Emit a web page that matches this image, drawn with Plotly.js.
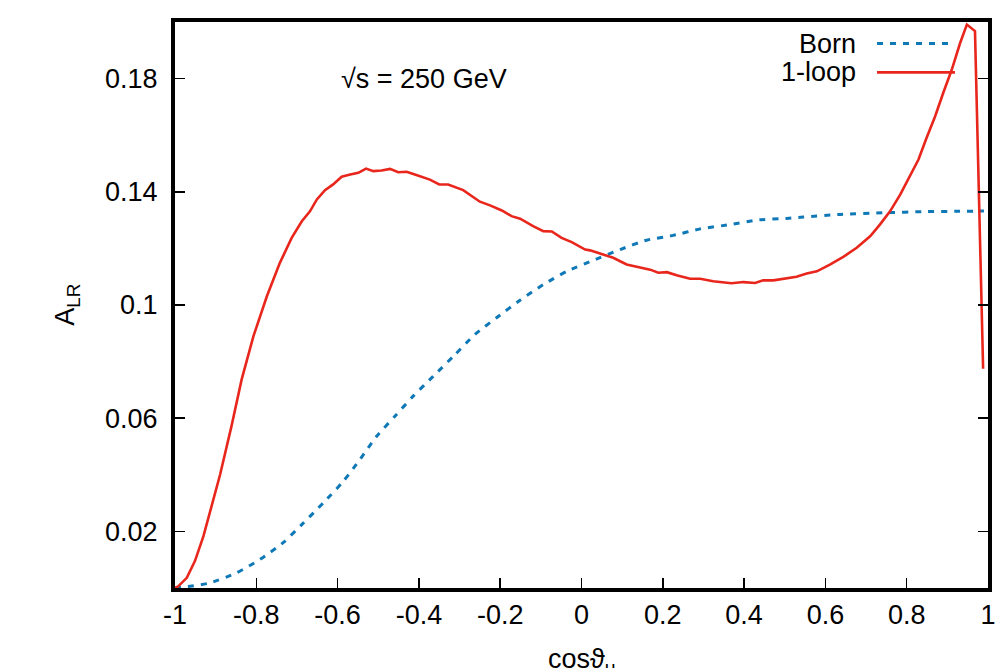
<!DOCTYPE html>
<html>
<head>
<meta charset="utf-8">
<script src="https://cdn.plot.ly/plotly-3.0.1.min.js"></script>
<style>html,body{margin:0;padding:0;background:#fff;}#chart{width:1006px;height:668px;}</style>
</head>
<body>
<div id="chart"></div>
<script>
// 1-loop A_LR
const loopX = [-1, -0.992, -0.971, -0.951, -0.930, -0.910, -0.889, -0.861, -0.836, -0.807, -0.774, -0.742, -0.713, -0.688, -0.668, -0.651, -0.631, -0.611, -0.590, -0.569, -0.549, -0.530, -0.512, -0.492, -0.471, -0.451, -0.430, -0.410, -0.373, -0.350, -0.328, -0.291, -0.270, -0.250, -0.225, -0.196, -0.172, -0.151, -0.119, -0.094, -0.073, -0.049, -0.024, 0.009, 0.021, 0.041, 0.050, 0.078, 0.111, 0.144, 0.169, 0.189, 0.210, 0.234, 0.267, 0.292, 0.324, 0.369, 0.398, 0.427, 0.447, 0.472, 0.505, 0.529, 0.554, 0.579, 0.611, 0.644, 0.677, 0.710, 0.734, 0.759, 0.784, 0.808, 0.829, 0.849, 0.870, 0.890, 0.911, 0.931, 0.948, 0.968, 0.988];
const loopY = [0, 0.0006, 0.0036, 0.0095, 0.0183, 0.0289, 0.0401, 0.0572, 0.0737, 0.0890, 0.1031, 0.1149, 0.1237, 0.1296, 0.1331, 0.1373, 0.1406, 0.1426, 0.1453, 0.1461, 0.1467, 0.1482, 0.1473, 0.1475, 0.1481, 0.1469, 0.1471, 0.1461, 0.1443, 0.1426, 0.1426, 0.1406, 0.1384, 0.1365, 0.1352, 0.1334, 0.1314, 0.1305, 0.1279, 0.1261, 0.1260, 0.1237, 0.1222, 0.1196, 0.1193, 0.1184, 0.1182, 0.1167, 0.1143, 0.1134, 0.1125, 0.1114, 0.1116, 0.1105, 0.1093, 0.1093, 0.1084, 0.1077, 0.1081, 0.1078, 0.1087, 0.1087, 0.1094, 0.1100, 0.1111, 0.1119, 0.1143, 0.1170, 0.1202, 0.1243, 0.1284, 0.1331, 0.1390, 0.1455, 0.1514, 0.1591, 0.1667, 0.1750, 0.1832, 0.1924, 0.1991, 0.1968, 0.0775];
// Born A_LR
const bornX = [-1, -0.963, -0.914, -0.848, -0.791, -0.734, -0.684, -0.635, -0.586, -0.545, -0.504, -0.459, -0.414, -0.365, -0.315, -0.262, -0.209, -0.151, -0.094, -0.036, 0.029, 0.095, 0.160, 0.226, 0.292, 0.365, 0.431, 0.505, 0.546, 0.636, 0.742, 0.849, 0.920, 0.990];
const bornY = [0, 0.0006, 0.0018, 0.0054, 0.0101, 0.0160, 0.0230, 0.0301, 0.0377, 0.0454, 0.0536, 0.0607, 0.0678, 0.0748, 0.0819, 0.0896, 0.0955, 0.1017, 0.1072, 0.1119, 0.1158, 0.1196, 0.1229, 0.1246, 0.1269, 0.1284, 0.1300, 0.1306, 0.1311, 0.1320, 0.1326, 0.1330, 0.1331, 0.1332];

const xTicks = [-1, -0.8, -0.6, -0.4, -0.2, 0, 0.2, 0.4, 0.6, 0.8, 1];
const xTickText = ["-1", "-0.8", "-0.6", "-0.4", "-0.2", "0", "0.2", "0.4", "0.6", "0.8", "1"];
const yTicks = [0.02, 0.06, 0.1, 0.14, 0.18];
const yTickText = ["0.02", "0.06", "0.1", "0.14", "0.18"];
const seriesNames = ["Born", "1-loop"];

const RED = "#e8261c";
const BLUE = "#0f78b7";
const FONT = "Liberation Sans, Arial, sans-serif";
const FS = 27;

const traces = [
  {x: bornX, y: bornY, mode: "lines", name: seriesNames[0], line: {color: BLUE, width: 3, dash: "6px,7px", shape: "spline", smoothing: 0.6}, showlegend: false, hoverinfo: "skip"},
  {x: loopX, y: loopY, mode: "lines", name: seriesNames[1], line: {color: RED, width: 2.6}, showlegend: false, hoverinfo: "skip"}
];

const layout = {
  width: 1006, height: 668,
  margin: {l: 175, r: 18, t: 22, b: 80},
  paper_bgcolor: "#fff", plot_bgcolor: "#fff",
  font: {family: FONT, size: FS, color: "#000"},
  xaxis: {
    range: [-1, 1], tickvals: xTicks, ticktext: xTickText,
    ticks: "inside", ticklen: 10, tickwidth: 1.5, tickcolor: "#000",
    showline: true, linewidth: 4, linecolor: "#000", mirror: true,
    showgrid: false, zeroline: false, ticklabelstandoff: 0,
    tickfont: {family: FONT, size: FS, color: "#000"}
  },
  yaxis: {
    range: [0, 0.2], tickvals: yTicks, ticktext: yTickText,
    ticks: "inside", ticklen: 10, tickwidth: 1.5, tickcolor: "#000",
    showline: true, linewidth: 4, linecolor: "#000", mirror: "ticks",
    showgrid: false, zeroline: false, ticklabelstandoff: 8,
    tickfont: {family: FONT, size: FS, color: "#000"}
  },
  annotations: [
    {text: "√s = 250 GeV", x: -0.387, y: 0.18, xref: "x", yref: "y", xanchor: "center", yanchor: "middle", showarrow: false, font: {family: FONT, size: FS}},
    {text: seriesNames[0], x: 0.840, y: 0.962, xref: "paper", yref: "paper", xanchor: "right", yanchor: "middle", showarrow: false, font: {family: FONT, size: FS}},
    {text: seriesNames[1], x: 0.840, y: 0.911, xref: "paper", yref: "paper", xanchor: "right", yanchor: "middle", showarrow: false, font: {family: FONT, size: FS}},
    {text: "A<sub>LR</sub>", x: -0.133, y: 0.5, xref: "paper", yref: "paper", xanchor: "center", yanchor: "middle", textangle: -90, showarrow: false, font: {family: FONT, size: FS}},
    {text: "cosϑ<sub>μ</sub>", x: 0.5, y: -0.095, xref: "paper", yref: "paper", xanchor: "center", yanchor: "top", showarrow: false, font: {family: FONT, size: FS}}
  ],
  shapes: [
    {type: "line", xref: "paper", yref: "paper", x0: 0.8635, x1: 0.9594, y0: 0.962, y1: 0.962, line: {color: BLUE, width: 3, dash: "6px,7px"}},
    {type: "line", xref: "paper", yref: "paper", x0: 0.8635, x1: 0.9594, y0: 0.911, y1: 0.911, line: {color: RED, width: 2.6}}
  ]
};

Plotly.newPlot("chart", traces, layout, {displayModeBar: false, staticPlot: true});
</script>
</body>
</html>
